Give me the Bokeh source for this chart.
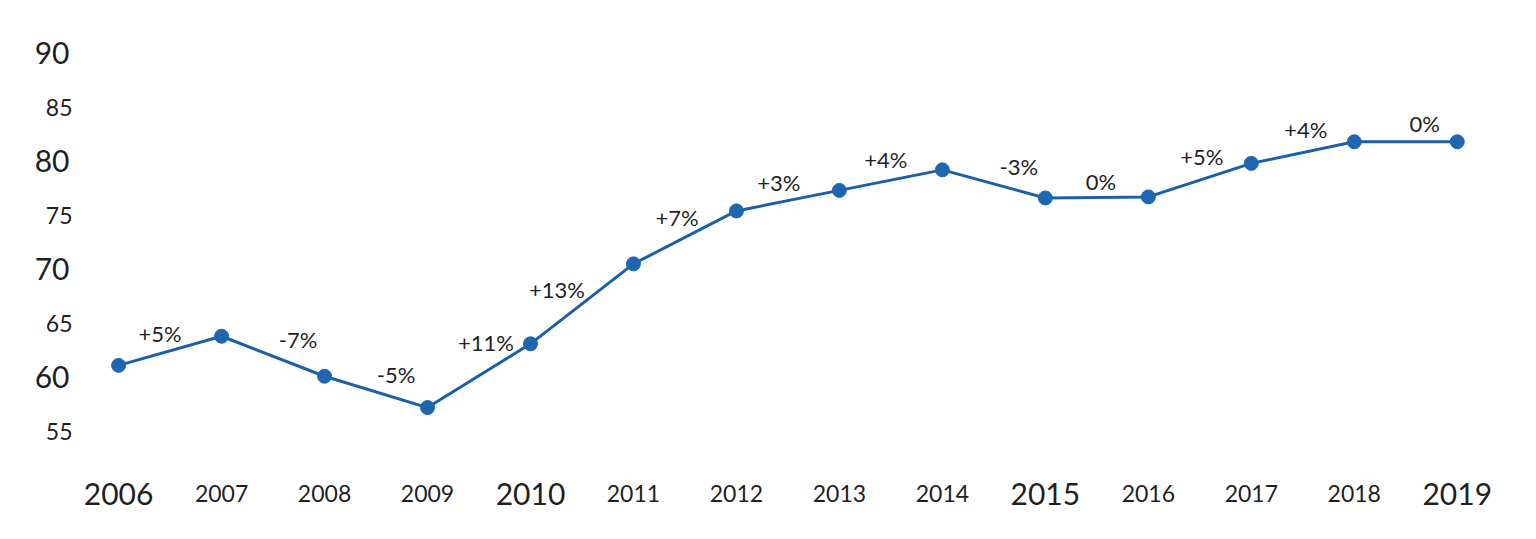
from bokeh.plotting import figure
from bokeh.models import Range1d, LinearAxis, FixedTicker, ColumnDataSource
from bokeh.embed import file_html
from bokeh.resources import INLINE
from bokeh.core.properties import value

# ---- data ----
years = [2006, 2007, 2008, 2009, 2010, 2011, 2012, 2013, 2014, 2015, 2016, 2017, 2018, 2019]
values = [61.1, 63.8, 60.1, 57.2, 63.1, 70.5, 75.4, 77.3, 79.2, 76.6, 76.7, 79.8, 81.8, 81.8]
changes = ["+5%", "-7%", "-5%", "+11%", "+13%", "+7%", "+3%", "+4%", "-3%", "0%", "+5%", "+4%", "0%"]
y_ticks_big = [60, 70, 80, 90]
y_ticks_small = [55, 65, 75, 85]
x_ticks_big = [2006, 2010, 2015, 2019]
x_ticks_small = [2007, 2008, 2009, 2011, 2012, 2013, 2014, 2016, 2017, 2018]

# ---- label placement styling (pixel offsets from segment midpoints) ----
lab_dx = [-10, 25, 20, 7, -25, -8, -9, -5, 25, 4, 2, 3, 19]
lab_dy = [-17, -17, -17, -33, -14, -20, -18, -21, -17, -16, -24, -23, -18]

FONT = "Lato"
TXT = "#1f1f1f"
LINE = "#1b5fab"
DOT = "#1e66b0"

p = figure(width=1520, height=523,
           x_range=Range1d(2005.63, 2019.42), y_range=Range1d(52.3, 92.1),
           output_backend="svg", toolbar_location=None,
           x_axis_location=None, y_axis_location=None,
           min_border_left=80, min_border_right=20,
           min_border_top=30, min_border_bottom=63)
p.outline_line_color = None
p.xgrid.visible = False
p.ygrid.visible = False
p.background_fill_color = "white"
p.border_fill_color = "white"


def style_axis(ax, size, standoff):
    ax.axis_line_color = None
    ax.major_tick_line_color = None
    ax.minor_tick_line_color = None
    ax.major_tick_out = 0
    ax.major_tick_in = 0
    ax.minor_tick_out = 0
    ax.major_label_text_font = FONT
    ax.major_label_text_font_size = size
    ax.major_label_text_color = TXT
    ax.major_label_standoff = standoff


y_small = LinearAxis(ticker=FixedTicker(ticks=y_ticks_small))
style_axis(y_small, "23px", 8)
y_big = LinearAxis(ticker=FixedTicker(ticks=y_ticks_big))
style_axis(y_big, "30px", -27)
p.add_layout(y_small, "left")
p.add_layout(y_big, "left")

x_small = LinearAxis(ticker=FixedTicker(ticks=x_ticks_small))
style_axis(x_small, "23px", 24)
x_big = LinearAxis(ticker=FixedTicker(ticks=x_ticks_big))
style_axis(x_big, "30px", -22)
p.add_layout(x_small, "below")
p.add_layout(x_big, "below")

src = ColumnDataSource(dict(x=years, y=values))
p.line("x", "y", source=src, line_color=LINE, line_width=3)
p.scatter("x", "y", source=src, size=14, fill_color=DOT, line_color=DOT)

mid_x = [(years[i] + years[i + 1]) / 2 for i in range(len(years) - 1)]
mid_y = [(values[i] + values[i + 1]) / 2 for i in range(len(values) - 1)]
lsrc = ColumnDataSource(dict(x=mid_x, y=mid_y, t=changes, dx=lab_dx, dy=lab_dy))
p.text("x", "y", text="t", source=lsrc, x_offset="dx", y_offset="dy",
       text_align="center", text_baseline="middle",
       text_font=value(FONT), text_font_size="22px", text_color=TXT)

open("out.html", "w").write(file_html(p, INLINE))
